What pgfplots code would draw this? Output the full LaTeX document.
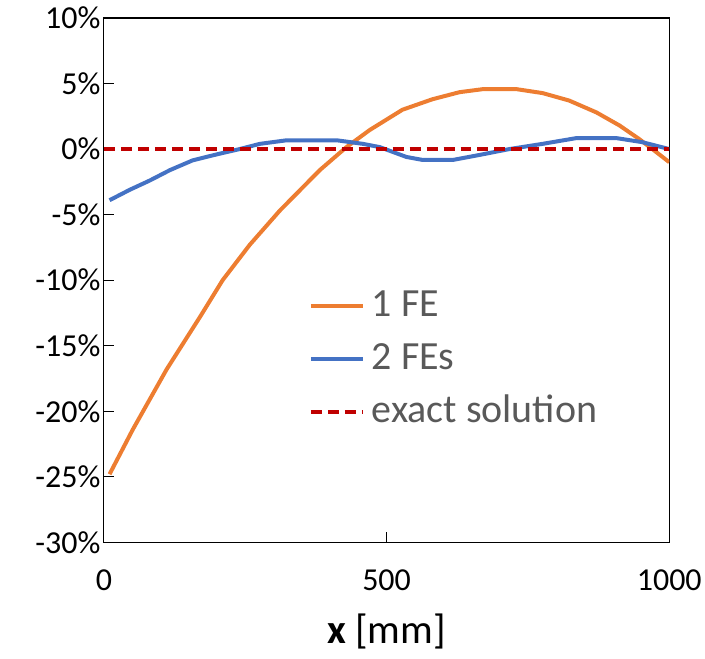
\documentclass[border=0pt]{standalone}
\usepackage{fontspec}
\setmainfont{Carlito}
\usepackage{pgfplots}
\pgfplotsset{compat=1.18}
\definecolor{feorange}{RGB}{237,125,49}
\definecolor{feblue}{RGB}{68,114,196}
\definecolor{exactred}{RGB}{192,0,0}
\definecolor{legtext}{RGB}{89,89,89}

\begin{document}
\begin{tikzpicture}
\begin{axis}[
    name=ax,
    width=566pt, height=525pt, scale only axis,
    xmin=0, xmax=1000, ymin=-30, ymax=10,
    xtick={0,500,1000},
    ytick={-30,-25,-20,-15,-10,-5,0,5,10},
    yticklabels={-30\%,-25\%,-20\%,-15\%,-10\%,-5\%,0\%,5\%,10\%},
    tick align=inside, tick pos=left,
    major tick length=10pt,
    axis line style={line width=1.2pt},
    tick style={line width=1.2pt, black},
    ticklabel style={font=\fontsize{32}{38}\selectfont},
    /pgf/number format/assume math mode=true,
    /pgf/number format/1000 sep={},
    xticklabel style={yshift=-24pt},
    xlabel={{\bfseries x} [mm]},
    xlabel style={font=\fontsize{41}{48}\selectfont, yshift=-16pt},
    legend cell align=left,
    legend image code/.code={\draw[#1] (0pt,0pt) -- (52pt,0pt);},
    legend style={draw=none, fill=none, at={(0.357,0.494)}, anchor=north west,
        font=\fontsize{40}{48}\selectfont, text=legtext, row sep=12pt,
        nodes={text height=29pt, text depth=8pt, inner sep=2pt},
        /tikz/every odd column/.append style={column sep=5pt}},
]
\addplot[color=feorange, line width=4pt, line join=round] coordinates {
    (10,-24.8) (51,-21.4) (111,-16.8) (170,-12.8) (210,-10.0) (258,-7.3)
    (311,-4.7) (382,-1.6) (429,0.15) (470,1.45) (528,3.0) (581,3.8)
    (629,4.34) (670,4.57) (730,4.57) (776,4.27) (823,3.7) (871,2.8)
    (912,1.8) (947,0.76) (977,-0.23) (1000,-1.0)
};
\addlegendentry{1 FE}
\addplot[color=feblue, line width=4pt, line join=round] coordinates {
    (10,-3.9) (46,-3.1) (81,-2.4) (117,-1.6) (157,-0.86) (200,-0.4)
    (240,0) (276,0.4) (323,0.67) (412,0.67) (458,0.4) (488,0.15)
    (535,-0.6) (564,-0.83) (617,-0.83) (664,-0.45) (717,0) (776,0.4)
    (836,0.84) (906,0.84) (952,0.53) (1000,0)
};
\addlegendentry{2 FEs}
\addplot[color=exactred, line width=4pt, dash pattern=on 11pt off 6pt] coordinates {
    (0,0) (1000,0)
};
\addlegendentry{exact solution}
\end{axis}
\path ([xshift=-104pt,yshift=-116pt]ax.south west) rectangle ([xshift=35pt,yshift=18pt]ax.north east);
\end{tikzpicture}
\end{document}
